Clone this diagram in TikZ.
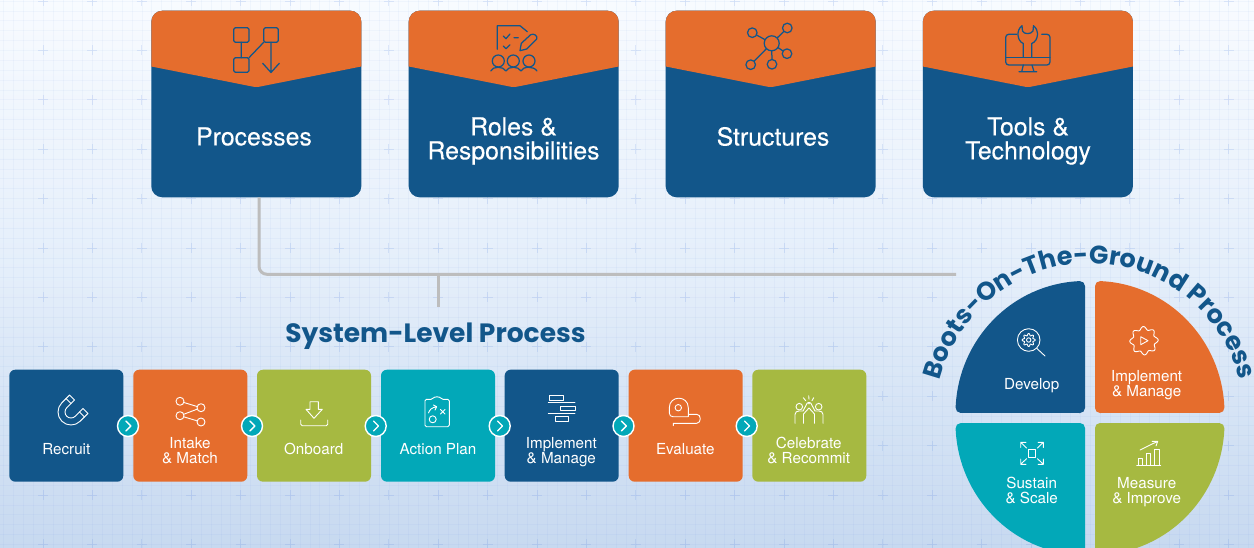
\documentclass[tikz,border=0pt]{standalone}
\usepackage{fontspec}
\setmainfont{TeX Gyre Heros}
\newfontfamily\sysfont{Poppins}
\newfontfamily\cardfont[FakeBold=0.25]{TeX Gyre Heros}
\usetikzlibrary{calc,decorations.text}
\definecolor{cblue}{HTML}{12568A}
\definecolor{corange}{HTML}{E56D2D}
\definecolor{cgreen}{HTML}{A6B941}
\definecolor{cteal}{HTML}{02A8B8}
\definecolor{cline}{HTML}{BDBDBD}
\definecolor{gridc}{HTML}{5A86E0}
\definecolor{bgtop}{HTML}{F8FBFF}
\definecolor{bgmid}{HTML}{E4EEFA}
\definecolor{bgbot}{HTML}{C7D9F0}
\newcommand\bootsfont{\sysfont\bfseries\fontsize{25.5}{25.5}\selectfont}
\tikzset{
  cardbox/.style={draw=none,fill=cblue,rounded corners=11,minimum width=210,minimum height=186.6,inner sep=0,outer sep=0},
  cardtext/.style={text=white,font=\cardfont\fontsize{24.8}{24}\selectfont,align=center,inner sep=0},
  stepcard/.style={draw=none,rounded corners=6,minimum width=114,minimum height=112,inner sep=0,outer sep=0},
  steptext/.style={text=white,font=\fontsize{15.2}{15}\selectfont,align=center,inner sep=0},
  chev/.style={circle,draw=white,line width=1.4,fill=cteal,minimum size=21,inner sep=0},
  chevmark/.style={draw=white,line width=1.4,line cap=round,line join=round},
  conn/.style={draw=cline,line width=3},
  topicon/.style={draw=cblue,line width=1.25,line cap=round,line join=round},
  wicon/.style={draw=white,line width=0.9,line cap=round,line join=round},
  syshead/.style={text=cblue,font=\sysfont\bfseries\fontsize{26.5}{26.5}\selectfont,inner sep=0},
}
\newcommand\topcard[2]{%
  \node[cardbox] (#1) at (#2,104) {};
  \begin{scope}
    \clip[rounded corners=11] (#1.north west) rectangle (#1.south east);
    \fill[corange,rounded corners=2] ($(#1.north west)+(-5,-5)$) -- ($(#1.north east)+(5,-5)$)
      -- ($(#1.north east)+(5,54.8)$) -- ($(#1.north)+(0,76.6)$) -- ($(#1.north west)+(-5,54.8)$) -- cycle;
  \end{scope}
}
\newcommand\chevat[2]{%
  \node[chev] (#1) at (#2,426) {};
  \draw[chevmark] ($(#1.center)+(-2.2,-5)$) -- ($(#1.center)+(2.8,0)$) -- ($(#1.center)+(-2.2,5)$);
}
% colour, corner x, corner y (y-up), inner-corner x, inner-corner y, start, end
\newcommand\quadpiece[7]{%
  \path (#2,#3) ++(#6:124.5 and 127) coordinate (qs);
  \filldraw[#1,line width=10,line join=round] (#4,#5) -- (qs) arc[start angle=#6,end angle=#7,x radius=124.5,y radius=127] -- cycle;
}
\begin{document}
\begin{tikzpicture}[x=1pt,y=-1pt]
\clip (0,0) rectangle (1254,548);
% background
\shade[top color=bgtop,bottom color=bgbot,middle color=bgmid] (0,0) rectangle (1254,548);
\foreach \i in {0,...,127}{
  \draw[gridc,opacity=0.05,line width=0.7] ({\i*9.88+3.6},0) -- ({\i*9.88+3.6},548);
}
\foreach \i in {0,...,56}{
  \draw[gridc,opacity=0.05,line width=0.7] (0,{\i*9.88+1}) -- (1254,{\i*9.88+1});
}
\foreach \i in {0,...,25}{
  \foreach \j in {0,...,11}{
    \draw[gridc,opacity=0.16,line width=0.9] ({\i*49.4+43-5},{\j*49.4+1}) -- ({\i*49.4+43+5},{\j*49.4+1})
      ({\i*49.4+43},{\j*49.4+1-5}) -- ({\i*49.4+43},{\j*49.4+1+5});
  }
}
% top cards
\topcard{processes}{256.3}
\topcard{roles}{513.7}
\topcard{structures}{770.7}
\topcard{tools}{1027.9}
\node[cardtext] (processes-t) at (254,136.5) {Processes};
\node[cardtext] (roles-t) at (513.5,141) {Roles \&\\Responsibilities};
\node[cardtext] (structures-t) at (773,136.5) {Structures};
\node[cardtext] (tools-t) at (1028,141) {Tools \&\\Technology};
% connectors
\coordinate (jx) at (259,274.3);
\coordinate (bootsend) at (956,274.3);
\coordinate (stem) at (438.3,274.3);
\coordinate (stemend) at (438.3,307);
\draw[conn] (stem) -- (stemend);
\draw[conn,rounded corners=8] (processes.south -| jx) -- (jx) -- (bootsend);
% heading
\node[syshead] (sys) at (435.5,336) {System-Level Process};
% steps
\node[stepcard,fill=cblue] (s1) at (66.3,425.7) {};
\node[stepcard,fill=corange] (s2) at (190.3,425.7) {};
\node[stepcard,fill=cgreen] (s3) at (314,425.7) {};
\node[stepcard,fill=cteal] (s4) at (438,425.7) {};
\node[stepcard,fill=cblue] (s5) at (561.7,425.7) {};
\node[stepcard,fill=corange] (s6) at (685.7,425.7) {};
\node[stepcard,fill=cgreen] (s7) at (809.3,425.7) {};
\node[steptext] (s1-t) at (66.3,449) {Recruit};
\node[steptext] (s2-t) at (190,450.5) {Intake\\\& Match};
\node[steptext] (s3-t) at (313.7,449) {Onboard};
\node[steptext] (s4-t) at (438,449) {Action Plan};
\node[steptext] (s5-t) at (561.3,451.8) {Implement\\\& Manage};
\node[steptext] (s6-t) at (685.3,449) {Evaluate};
\node[steptext] (s7-t) at (808.7,450.5) {Celebrate\\\& Recommit};
\chevat{c1}{128}
\chevat{c2}{252}
\chevat{c3}{375.7}
\chevat{c4}{499.7}
\chevat{c5}{623.5}
\chevat{c6}{746.7}
% quadrants
\begin{scope}[y=1pt]
  \quadpiece{cblue}{1085}{-413}{1080}{-408}{92.3}{177.7}
  \quadpiece{corange}{1095}{-413}{1100}{-408}{2.3}{87.7}
  \quadpiece{cteal}{1085}{-423}{1080}{-428}{182.3}{267.7}
  \quadpiece{cgreen}{1095}{-423}{1100}{-428}{272.3}{357.7}
  \path[decorate,decoration={text along path,text align=center,text={|\bootsfont\color{cblue}|Boots-On-The-Ground Process}}]
    (1090,-418) ++(167:154.5) arc[start angle=167,end angle=13,radius=154.5];
\end{scope}
\node[steptext] (q1-t) at (1031.7,385.5) {Develop};
\node[steptext] (q2-t) at (1146.7,384.8) {Implement\\\& Manage};
\node[steptext] (q3-t) at (1031.7,490.5) {Sustain\\\& Scale};
\node[steptext] (q4-t) at (1146.7,491.8) {Measure\\\& Improve};
% --- top icons
% processes
\draw[topicon,rounded corners=1.5] (233.7,27.7) rectangle (249,42.3);
\draw[topicon,rounded corners=1.5] (263.7,27.7) rectangle (278.3,42.3);
\draw[topicon,rounded corners=1.5] (233.7,57.7) rectangle (249,72.3);
\draw[topicon] (241.3,42.3) -- (241.3,57.7) (263.7,42.3) -- (249,57.7) (271,42.3) -- (271,72.5) (262.7,63.3) -- (271,72.5) -- (279.3,63.3);
% roles
\draw[topicon] (497.3,49.3) -- (497.3,25.7) -- (520,25.7) -- (527.3,31.7);
\draw[topicon] (503.3,36) -- (506,38.7) -- (510,34) (503.3,46) -- (506,48.7) -- (510,44.7) (514,37.7) -- (518.3,37.7);
\draw[topicon] (520,50.7) -- (521.3,43.3) -- (530.7,34.7) .. controls (534,33) and (538,36) .. (536.7,39) -- (526.7,49) -- cycle;
\draw[topicon] (498.3,61) circle[radius=6] (513.3,61) circle[radius=6] (529,61) circle[radius=6];
\draw[topicon] (490.7,71) .. controls (493,66) and (503,66) .. (506,71) .. controls (508,66) and (518.5,66) .. (521,71) .. controls (523,66) and (534,66) .. (537,71);
% structures
\draw[topicon] (771.7,43.3) -- (752.3,32.7) (771.7,43.3) -- (787.3,28) (771.7,43.3) -- (787,53.7) (771.7,43.3) -- (772,64.3) (771.7,43.3) -- (750.7,64.7);
\draw[topicon,fill=corange] (771.7,43.3) circle[radius=7.5];
\foreach \p in {(752.3,32.7),(787.3,28),(787,53.7),(772,64.3),(750.7,64.7)}{
  \draw[topicon,fill=corange] \p circle[radius=4.8];
}
% tools
\draw[topicon,rounded corners=3] (1016.7,34.3) -- (1005.7,34.3) -- (1005.7,65) -- (1050,65) -- (1050,34.3) -- (1041.7,34.3);
\draw[topicon] (1005.7,57.3) -- (1050,57.3);
\draw[topicon] (1023.3,57.3) -- (1023.3,43.5) .. controls (1017,41) and (1016,30) .. (1022,25.7) -- (1022.5,31) .. controls (1024,34.5) and (1031,34.5) .. (1033,31) -- (1033.5,25.7)
  .. controls (1039.5,30) and (1038.5,41) .. (1031.7,43.5) -- (1031.7,57.3);
\draw[topicon] (1023.3,65) -- (1021.7,71.7) (1032,65) -- (1034,71.7) (1019,71.7) -- (1036.7,71.7);
% --- step icons
% magnet
\begin{scope}[shift={(71,412)},rotate=-45,y=1pt]
  \draw[wicon] (-13,0) -- (-13,11) -- (-6,11) -- (-6,0) arc[start angle=180,end angle=360,radius=6] -- (6,11) -- (13,11) -- (13,0) arc[start angle=0,end angle=-180,radius=13] -- cycle;
  \draw[wicon] (-13,6) -- (-6,6) (6,6) -- (13,6);
\end{scope}
% intake
\draw[wicon] (180,401.3) -- (201,407.7) -- (180,415.7) -- (201,422);
\foreach \p in {(180,401.3),(180,415.7),(201,407.7),(201,422)}{
  \draw[wicon,fill=corange] \p circle[radius=4];
}
% onboard
\draw[wicon] (310,401.7) -- (318.3,401.7) -- (318.3,409.3) -- (322.3,409.3) -- (314,418.3) -- (306,409.3) -- (310,409.3) -- cycle;
\draw[wicon,rounded corners=1.5] (300.7,420) -- (300.7,425.7) -- (327.7,425.7) -- (327.7,420);
% action plan
\draw[wicon,rounded corners=1.5] (431,399.3) -- (425,399.3) -- (425,426.7) -- (449.3,426.7) -- (449.3,399.3) -- (443,399.3);
\draw[wicon] (431,399.3) .. controls (433,399.3) and (433,396.8) .. (437,396.8) .. controls (441,396.8) and (441,399.3) .. (443,399.3);
\draw[wicon] (432.7,419.3) circle[radius=3.5];
\draw[wicon] (428.5,413) .. controls (429.5,409.5) and (432,407.5) .. (436.7,406.7) (433.5,405) -- (436.7,406.7) -- (435,410);
\draw[wicon] (440.5,409.5) -- (445,414) (445,409.5) -- (440.5,414);
% implement
\draw[wicon] (549,395.3) rectangle (563.3,400);
\draw[wicon] (548.3,402.7) -- (575,402.7);
\draw[wicon] (560.7,406) rectangle (575,410.7);
\draw[wicon] (548.3,413.3) -- (575,413.3);
\draw[wicon] (555,416.7) rectangle (568.3,421);
% evaluate
\draw[wicon] (678.3,407.7) circle[radius=3.2];
\draw[wicon] (688.3,414.3) -- (688.3,407.8) .. controls (688.3,395) and (669.3,395) .. (669.3,407.8) -- (669.3,413) .. controls (669.3,415.5) and (671,416.7) .. (673,416.7) -- (688.3,416.7) -- (688.3,414.3) -- (696.7,414.3) .. controls (701.5,414.3) and (701.5,423.3) .. (696.7,423.3) -- (673.3,423.3) -- (673.3,425.7);
% celebrate
\draw[wicon] (799.3,406.7) circle[radius=3.3] (818.7,406.7) circle[radius=3.3];
\draw[wicon] (795,423.3) -- (795,414.5) .. controls (795,412) and (797,411) .. (799,411) -- (803,411) -- (807,403.5) .. controls (808,402) and (809,402) .. (809,404) .. controls (809,402) and (810,402) .. (811,403.5) -- (815,411) -- (819,411) .. controls (821,411) and (823,412) .. (823,414.5) -- (823,423.3);
\draw[wicon] (803.5,423.3) -- (803.5,414) -- (809,408) -- (814.5,414) -- (814.5,423.3);
\draw[wicon] (808.7,395.7) -- (809,399.3) (803.3,397.7) -- (805.7,400.7) (813.7,397.7) -- (812,400.7);
% --- quadrant icons
% develop
\draw[wicon] (1028.7,340) circle[radius=11.3] (1028.7,340) circle[radius=2.2];
\draw[wicon] plot[domain=0:360,samples=65,smooth] ({1028.7+(5.5+1.1*cos(8*\x))*cos(\x)},{340+(5.5+1.1*cos(8*\x))*sin(\x)});
\draw[wicon] (1036.7,348.3) -- (1045,356);
% implement
\draw[wicon] plot[domain=0:360,samples=97,smooth] ({1144+(12.6+1.6*cos(8*\x+22))*cos(\x)},{340.7+(12.6+1.6*cos(8*\x+22))*sin(\x)});
\draw[wicon] (1140.7,336.7) -- (1148,340.7) -- (1140.7,344.7) -- cycle;
% sustain
\draw[wicon] (1028.3,449.5) rectangle (1035.7,457.3);
\draw[wicon] (1026.5,448) -- (1020.7,442.3) (1020.7,447.5) -- (1020.7,442.3) -- (1026,442.3);
\draw[wicon] (1037.5,448) -- (1043.3,442.3) (1043.3,447.5) -- (1043.3,442.3) -- (1038,442.3);
\draw[wicon] (1026.5,458.7) -- (1020.7,464.3) (1020.7,459) -- (1020.7,464.3) -- (1026,464.3);
\draw[wicon] (1037.5,458.7) -- (1043.3,464.3) (1043.3,459) -- (1043.3,464.3) -- (1038,464.3);
% measure
\draw[wicon] (1136.7,465.3) -- (1160.7,465.3);
\draw[wicon] (1138,465.3) -- (1138,458) -- (1142.7,458) -- (1142.7,465.3);
\draw[wicon] (1146,465.3) -- (1146,453.3) -- (1150.7,453.3) -- (1150.7,465.3);
\draw[wicon] (1154,465.3) -- (1154,449) -- (1159.3,449) -- (1159.3,465.3);
\draw[wicon] (1140,450) -- (1157.7,441.3) (1152,441.3) -- (1157.7,441.3) -- (1156,446);
\end{tikzpicture}
\end{document}
